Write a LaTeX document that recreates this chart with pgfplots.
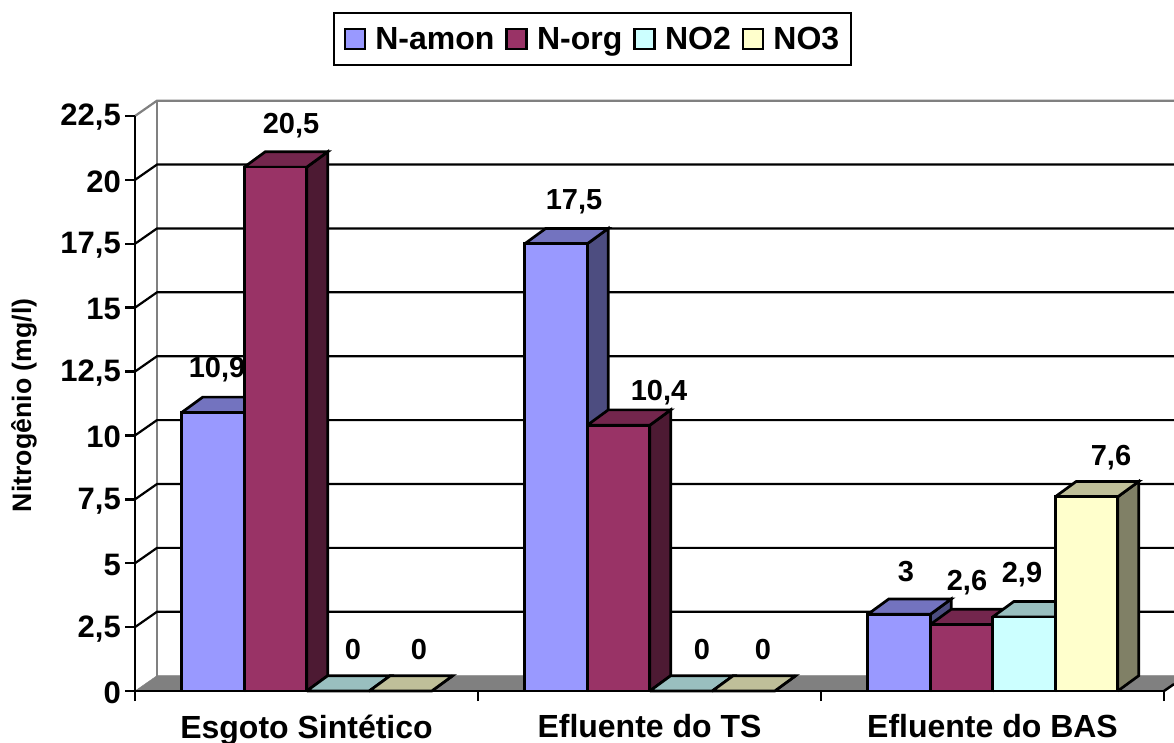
\documentclass[border=0pt]{standalone}
\usepackage{pgfplots}
\usepackage{pgfplotstable}
\usepackage{fontspec}
\setmainfont{Liberation Sans}
\pgfplotsset{compat=1.18}
\definecolor{aF}{HTML}{9999FF}\definecolor{aT}{HTML}{7373BF}\definecolor{aS}{HTML}{4D4D80}
\definecolor{bF}{HTML}{993366}\definecolor{bT}{HTML}{73264D}\definecolor{bS}{HTML}{4D1A33}
\definecolor{cF}{HTML}{CCFFFF}\definecolor{cT}{HTML}{99BFBF}\definecolor{cS}{HTML}{668080}
\definecolor{dF}{HTML}{FFFFCC}\definecolor{dT}{HTML}{BFBF99}\definecolor{dS}{HTML}{808066}
\definecolor{wallgray}{HTML}{808080}
\pgfplotstableread{
x y
213 10.9
556 17.5
899 3
}\tabA
\pgfplotstableread{
x y
275.5 20.5
618.5 10.4
961.5 2.6
}\tabB
\pgfplotstableread{
x y
338 0
681 0
1024 2.9
}\tabC
\pgfplotstableread{
x y
400.5 0
743.5 0
1086.5 7.6
}\tabD
\pgfplotsset{
  frontbar/.style={ybar, bar width=62.5, bar shift=0pt, draw=black, fill=#1, line width=2.7pt,
    legend image code/.code={\draw[draw=black,fill=#1,line width=2.5pt] (0pt,-10pt) rectangle (20pt,10pt);\path (27pt,0pt);}},
  face/.style={forget plot, draw=black, fill=#1, line width=2.7pt, line join=miter, mark=none, sharp plot},
}
% centre x, value, top colour, side colour
\newcommand{\cube}[4]{%
  \pgfmathsetmacro{\xl}{#1-31.25}\pgfmathsetmacro{\xr}{#1+31.25}%
  \pgfmathsetmacro{\xlb}{\xl+21}\pgfmathsetmacro{\xrb}{\xr+21}%
  \pgfmathsetmacro{\vb}{#2+0.6}%
  \addplot[face=#4] coordinates {(\xr,0) (\xrb,0.6) (\xrb,\vb) (\xr,#2) (\xr,0)};
  \addplot[face=#3] coordinates {(\xl,#2) (\xlb,\vb) (\xrb,\vb) (\xr,#2) (\xl,#2)};
}
\newcommand{\gridl}[1]{%
  \pgfmathsetmacro{\vb}{#1+0.6}%
  \addplot[forget plot, black, line width=2.2pt, mark=none] coordinates {(135,#1) (157,\vb) (1174,\vb)};
}
\newcommand{\lab}[4]{\node[anchor=base, font=\fontsize{29}{29}\selectfont\bfseries, inner sep=0pt] at (axis cs:#1,#2) [yshift=#3pt] {#4};}
\begin{document}
\begin{tikzpicture}[x=1pt,y=1pt]
\useasboundingbox (0,0) rectangle (1174,742);
\begin{axis}[
  at={(135pt,51pt)}, anchor=south west,
  scale only axis, width=1029pt, height=575pt,
  xmin=135, xmax=1164, ymin=0, ymax=22.5,
  clip=false, axis on top,
  axis x line*=bottom, axis y line*=left,
  axis line style={line width=2.5pt},
  tick align=outside,
  ytick={0,2.5,...,22.5},
  major tick length=10pt, minor tick length=10pt,
  ytick style={line width=2.5pt, black},
  xtick={306.5,649.5,992.5},
  xticklabels={Esgoto Sintético,Efluente do TS,Efluente do BAS},
  minor xtick={135,478,821,1164},
  major x tick style={draw=none},
  minor x tick style={line width=2.5pt, black},
  yticklabel style={/pgf/number format/use comma, /pgf/number format/fixed, /pgf/number format/precision=1,
    /pgf/number format/assume math mode=true, font=\fontsize{31}{31}\selectfont\bfseries, inner xsep=4pt, yshift=-1.5pt},
  xticklabel style={font=\fontsize{32}{32}\selectfont\bfseries, yshift=-10pt},
  ylabel={Nitrogênio (mg/l)},
  ylabel style={font=\fontsize{26.7}{27}\selectfont\bfseries},
  every axis y label/.append style={at={(rel axis cs:-0.1079,0.497)}, anchor=center, rotate=0},
  legend columns=-1,
  legend style={at={(rel axis cs:0.4446,1.134)}, anchor=center, draw=black, line width=2.5pt,
    font=\fontsize{32}{32}\selectfont\bfseries,
    inner xsep=10pt, inner ysep=12pt,
    /tikz/every even column/.append style={column sep=9pt}},
]
% walls and floor
\addplot[forget plot, wallgray, line width=2.2pt, mark=none] coordinates {(135,22.5) (157,23.1) (1174,23.1)};
\addplot[forget plot, wallgray, line width=2.2pt, mark=none] coordinates {(157,0.6) (157,23.1)};
\gridl{2.5}\gridl{5}\gridl{7.5}\gridl{10}\gridl{12.5}\gridl{15}\gridl{17.5}\gridl{20}
\addplot[forget plot, draw=wallgray, fill=wallgray, mark=none] coordinates {(135,0) (157,0.6) (1174,0.6) (1174,0.27) (1164,0) (135,0)};
\addplot[forget plot, black, line width=2.5pt, mark=none] coordinates {(1164,0) (1174,0.27)};
% N-amon
\cube{213}{10.9}{aT}{aS}\cube{556}{17.5}{aT}{aS}\cube{899}{3}{aT}{aS}
\addplot[frontbar=aF] table[x=x,y=y] {\tabA};
\addlegendentry{N-amon}
% N-org
\cube{275.5}{20.5}{bT}{bS}\cube{618.5}{10.4}{bT}{bS}\cube{961.5}{2.6}{bT}{bS}
\addplot[frontbar=bF] table[x=x,y=y] {\tabB};
\addlegendentry{N-org}
% NO2
\cube{338}{0}{cT}{cS}\cube{681}{0}{cT}{cS}\cube{1024}{2.9}{cT}{cS}
\addplot[frontbar=cF] table[x=x,y=y] {\tabC};
\addlegendentry{NO2}
% NO3
\cube{400.5}{0}{dT}{dS}\cube{743.5}{0}{dT}{dS}\cube{1086.5}{7.6}{dT}{dS}
\addplot[frontbar=dF] table[x=x,y=y] {\tabD};
\addlegendentry{NO3}
% data labels
\lab{217}{10.9}{35}{10,9}
\lab{291}{20.5}{34}{20,5}
\lab{353}{0}{32}{0}
\lab{419}{0}{32}{0}
\lab{574}{17.5}{34}{17,5}
\lab{659}{10.4}{25}{10,4}
\lab{702}{0}{32}{0}
\lab{763}{0}{32}{0}
\lab{906}{3}{33}{3}
\lab{967}{2.6}{34}{2,6}
\lab{1022}{2.9}{34}{2,9}
\lab{1111}{7.6}{31}{7,6}
\end{axis}
\end{tikzpicture}
\end{document}
